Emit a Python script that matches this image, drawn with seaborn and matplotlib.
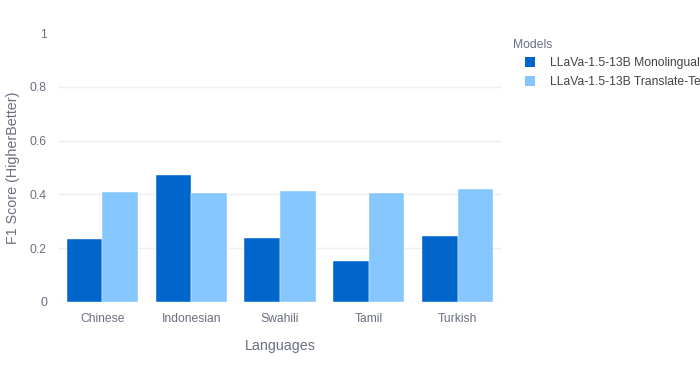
import matplotlib
matplotlib.use("Agg")
import matplotlib.pyplot as plt
import seaborn as sns
import pandas as pd
from matplotlib.patches import Patch

languages = ["Chinese", "Indonesian", "Swahili", "Tamil", "Turkish"]
models = ["LLaVa-1.5-13B Monolingual", "LLaVa-1.5-13B Translate-Test"]
mono_scores = [0.233, 0.472, 0.238, 0.151, 0.246]
trans_scores = [0.409, 0.404, 0.411, 0.406, 0.421]
colors = ["#0066CC", "#85C6FF"]

df = pd.DataFrame({
    "Languages": languages * 2,
    "Model": [models[0]] * len(languages) + [models[1]] * len(languages),
    "F1": mono_scores + trans_scores,
})

sns.set_theme(style="white")
plt.rcParams["font.family"] = ["Liberation Sans", "DejaVu Sans"]
txt = "#6b6f82"

fig = plt.figure(figsize=(7.0, 3.83), dpi=100)
ax = fig.add_axes([58 / 700, 1 - 302 / 383, 444 / 700, 269 / 383])

sns.barplot(data=df, x="Languages", y="F1", hue="Model", palette=colors,
            hue_order=models, order=languages, width=0.8, gap=0,
            saturation=1, edgecolor="#ffffff", linewidth=0.3, legend=False,
            ax=ax, zorder=3)

ax.set_ylim(0, 1)
ax.set_xlim(-0.5, len(languages) - 0.5)
ax.set_yticks([0, 0.2, 0.4, 0.6, 0.8, 1])
ax.set_yticklabels(["0", "0.2", "0.4", "0.6", "0.8", "1"])
ax.yaxis.grid(True, color="#eeeef4", linewidth=1, zorder=0)
ax.get_ygridlines()[-1].set_visible(False)
ax.set_axisbelow(True)
for s in ax.spines.values():
    s.set_visible(False)
ax.tick_params(axis="both", length=0, labelsize=8.7, colors=txt)
ax.tick_params(axis="y", pad=8)
ax.tick_params(axis="x", pad=8)
ax.set_xlabel("Languages", fontsize=10.3, color=txt, labelpad=10)
ax.set_ylabel("F1 Score (HigherBetter)", fontsize=10.3, color=txt, labelpad=7)

fig.text(513 / 700, 1 - 45 / 383, "Models", fontsize=8.7, color=txt,
         ha="left", va="center")
handles = [Patch(facecolor=c, edgecolor="none") for c in colors]
leg = fig.legend(handles, models, loc="upper left",
                 bbox_to_anchor=(514 / 700, 1 - 46 / 383), frameon=False,
                 fontsize=8.7, handlelength=0.85,
                 handleheight=0.95, handletextpad=1.25, labelspacing=0.55)
for t in leg.get_texts():
    t.set_color("#444444")

fig.savefig("out.png", dpi=100)
